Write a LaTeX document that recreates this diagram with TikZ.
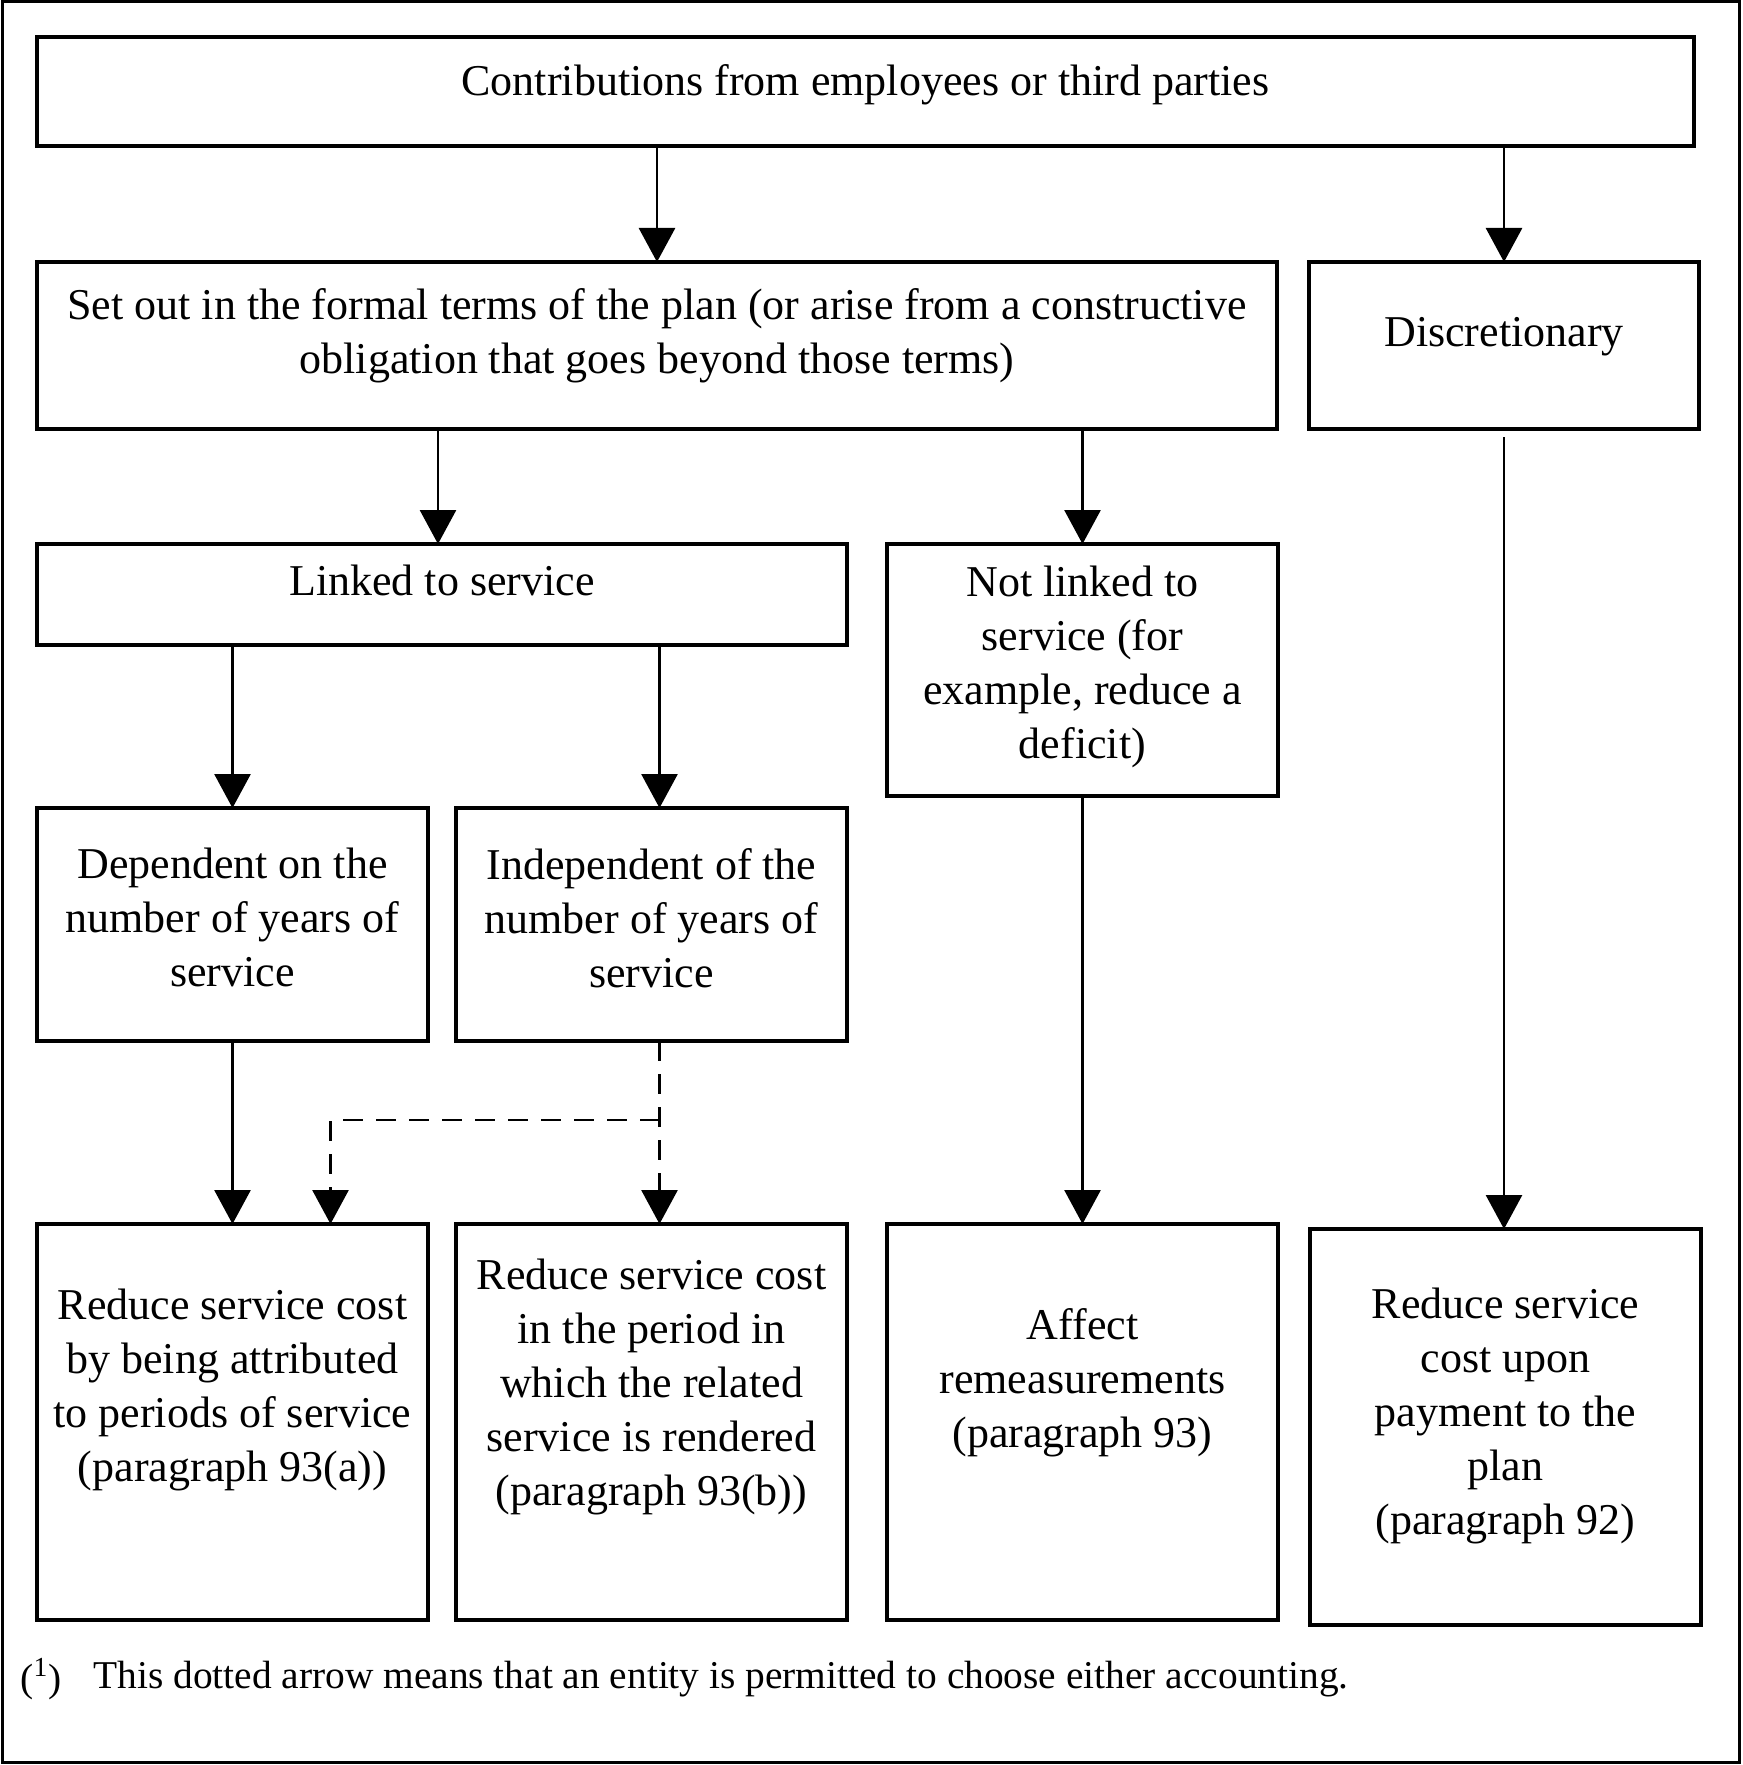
\documentclass[tikz,border=0pt]{standalone}
\usepackage{fontspec}
\setmainfont{Liberation Serif}
\usetikzlibrary{arrows.meta, positioning}

\begin{document}
\begin{tikzpicture}[
	x=1pt, y=-1pt,
	box/.style={
		draw,
		rectangle,
		line width=2pt,
		outer sep=0pt,
		align=center,
		inner sep=2pt,
		font=\fontsize{22}{27}\selectfont
	},
	small/.style={box, minimum width=195.5pt},
	arrow/.style={-{Triangle[width=18pt,length=17pt]}, line width=1.4pt},
	dasharrow/.style={arrow, dash pattern=on 10pt off 6.5pt}
	]
	
	\useasboundingbox (0,0) rectangle (871,882.5);
	\draw[line width=1.5pt] (1,1) rectangle (869.5,881);
	
	% top row
	\node[box, minimum width=828.5pt, minimum height=54.5pt, text depth=11.6pt, anchor=north west] (contrib) at (18.5,18.5) {Contributions from employees or third parties};
	
	% second row
	\node[box, minimum width=620pt, minimum height=83.5pt, text depth=14.7pt, below=58pt of contrib.south west, anchor=north west] (setout) {Set out in the formal terms of the plan (or arise from a constructive\\ obligation that goes beyond those terms)};
	\node[box, minimum width=195pt, minimum height=83.5pt, text depth=13.8pt, right=16pt of setout.north east, anchor=north west] (discr) {Discretionary};
	
	% third row
	\node[box, minimum width=405pt, minimum height=50.5pt, text depth=14.6pt, below=57.5pt of setout.south west, anchor=north west] (linked) {Linked to service};
	\node[small, minimum height=126pt, text depth=8pt, right=20pt of linked.north east, anchor=north west] (notlinked) {Not linked to\\ service (for\\ example, reduce a\\ deficit)};
	
	% fourth row
	\node[small, minimum height=116.5pt, text depth=6.8pt, below=81.5pt of linked.south west, anchor=north west] (dep) {Dependent on the\\ number of years of\\ service};
	\node[small, minimum height=116.5pt, text depth=6.8pt, right=14pt of dep.north east, anchor=north west] (indep) {Independent of the\\ number of years of\\ service};
	
	% bottom row
	\node[small, minimum height=198pt, text depth=36.4pt, below=91.5pt of dep.south west, anchor=north west] (attr) {Reduce service cost\\ by being attributed\\ to periods of service\\ (paragraph 93(a))};
	\node[small, minimum height=198pt, text depth=39.6pt, right=14pt of attr.north east, anchor=north west] (period) {Reduce service cost\\ in the period in\\ which the related\\ service is rendered\\ (paragraph 93(b))};
	\node[small, minimum height=198pt, text depth=44pt, right=20pt of period.north east, anchor=north west] (remeas) {Affect\\ remeasurements\\ (paragraph 93)};
	\node[small, minimum height=198pt, text depth=16pt, right=16pt of remeas.north east, anchor=north west, yshift=-2.5pt] (payment) {Reduce service\\ cost upon\\ payment to the\\ plan\\ (paragraph 92)};
	
	% footnote
	\node[anchor=west, inner sep=0pt, font=\fontsize{19.7}{24}\selectfont] (noteref) at (10,839.5) {(\textsuperscript{1})};
	\node[anchor=west, inner sep=0pt, font=\fontsize{19.7}{24}\selectfont] (note) at (46.5,839.5) {This dotted arrow means that an entity is permitted to choose either accounting.};
	
	% arrows
	\draw[arrow] (contrib.south -| setout.north) -- (setout.north);
	\draw[arrow] (contrib.south -| discr.north) -- (discr.north);
	\draw[arrow] (setout.south -| linked.north) ++(-2pt,0) -- ([xshift=-2pt]linked.north);
	\draw[arrow] (setout.south -| notlinked.north) -- (notlinked.north);
	\draw[arrow] (linked.south -| dep.north) -- (dep.north);
	\draw[arrow] (linked.south -| indep.north) ++(4pt,0) -- ([xshift=4pt]indep.north);
	\draw[arrow] (dep.south) -- (attr.north);
	\draw[arrow] (notlinked.south) -- (notlinked.south |- remeas.north);
	\draw[arrow, shorten <=4pt] (discr.south) -- (discr.south |- payment.north);
	
	% optional treatment
	\coordinate[below=39.5pt of indep.south, xshift=4pt] (fork);
	\draw[dasharrow] ([xshift=4pt]indep.south) -- ([xshift=4pt]period.north);
	\draw[dasharrow] (fork) -| ([xshift=49pt]attr.north);
	
\end{tikzpicture}
\end{document}
